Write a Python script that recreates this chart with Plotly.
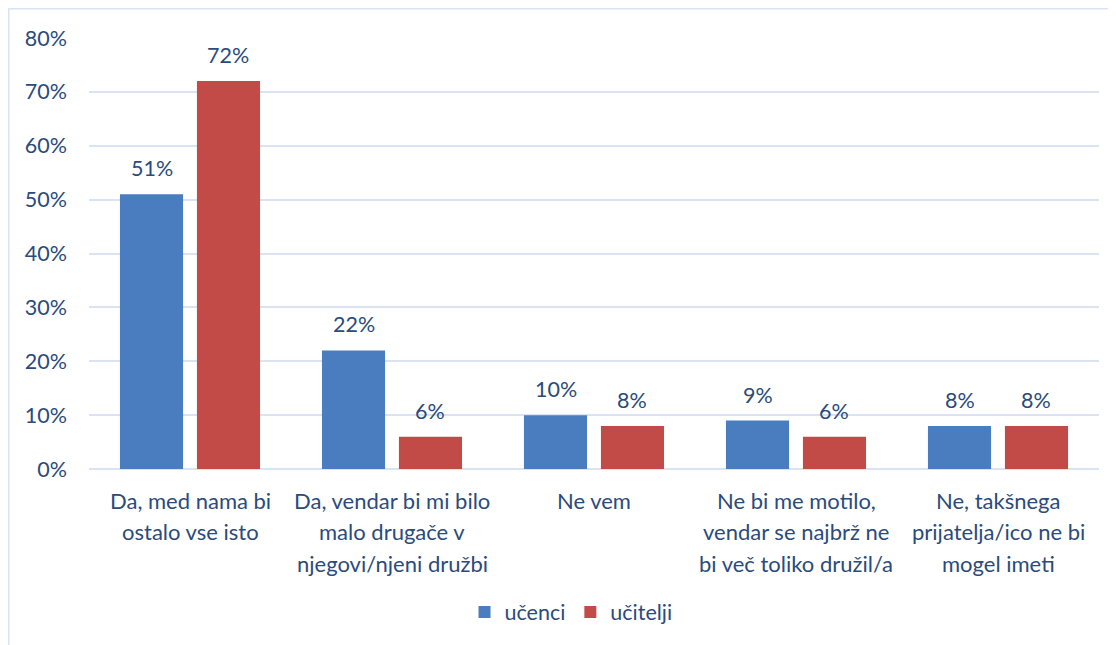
import plotly.graph_objects as go

categories = [
    "Da, med nama bi<br>ostalo vse isto",
    "Da, vendar bi mi bilo<br>malo drugače v<br>njegovi/njeni družbi",
    "Ne vem",
    "Ne bi me motilo,<br>vendar se najbrž ne<br>bi več toliko družil/a",
    "Ne, takšnega<br>prijatelja/ico ne bi<br>mogel imeti",
]
ucenci = [0.51, 0.22, 0.10, 0.09, 0.08]
ucitelji = [0.72, 0.06, 0.08, 0.06, 0.08]
y_ticks = [0, 0.1, 0.2, 0.3, 0.4, 0.5, 0.6, 0.7, 0.8]

FONT = "Lato"
TXT = "#2a4b7c"
GRID = "#d9e3f1"
W, H = 1116, 645
OFF = 8  # page offset of the figure in the screenshot
ML, PW = 89 - OFF, 1010
MT, PH = 38 - OFF, 431
MR = W - ML - PW
MB = H - MT - PH

def px_x(p):  # screenshot px -> paper
    return (p - OFF - ML) / PW

def px_y(p):
    return (MT + PH - (p - OFF)) / PH

fig = go.Figure()
fig.add_trace(go.Bar(name="učenci", x=list(range(5)), y=ucenci,
                     marker=dict(color="#4a7cc0", line=dict(width=0))))
fig.add_trace(go.Bar(name="učitelji", x=list(range(5)), y=ucitelji,
                     marker=dict(color="#c24b48", line=dict(width=0))))

annotations = []
for i, (a, b) in enumerate(zip(ucenci, ucitelji)):
    for off, v in ((-0.19, a), (0.19, b)):
        annotations.append(dict(x=i + off, y=v, xref="x", yref="y",
                                text=f"{round(v*100)}%", showarrow=False,
                                yanchor="bottom", yshift=11,
                                font=dict(family=FONT, size=21.5, color=TXT)))
for i, cat in enumerate(categories):
    for j, line in enumerate(cat.split("<br>")):
        annotations.append(dict(x=i, y=px_y(500 + j * 31.5), xref="x", yref="paper",
                                text=line, showarrow=False, yanchor="middle",
                                font=dict(family=FONT, size=22, color=TXT)))

fig.update_layout(
    width=W, height=H,
    margin=dict(l=ML, r=MR, t=MT, b=MB),
    paper_bgcolor="white", plot_bgcolor="white",
    barmode="group", bargap=0.238, bargroupgap=0.18,
    font=dict(family=FONT, size=21.5, color=TXT),
    xaxis=dict(range=[-0.5, 4.5], showticklabels=False, showgrid=False,
               zeroline=False, showline=False, ticks=""),
    yaxis=dict(range=[0, 0.8], tickvals=y_ticks, tickformat=".0%",
               showgrid=True, gridcolor=GRID, gridwidth=2,
               zeroline=True, zerolinecolor=GRID, zerolinewidth=2,
               showline=False, ticks="", ticklabelstandoff=21,
               tickfont=dict(family=FONT, size=21.5, color=TXT)),
    legend=dict(orientation="h", x=px_x(571), xanchor="center", y=px_y(612), yanchor="middle",
                font=dict(family=FONT, size=21.5, color=TXT), itemwidth=30,
                traceorder="normal"),
    annotations=annotations,
    shapes=[dict(type="rect", xref="paper", yref="paper",
                 x0=px_x(8.5), x1=px_x(1140), y0=px_y(660), y1=px_y(8.5),
                 line=dict(color=GRID, width=2), fillcolor="rgba(0,0,0,0)", layer="below")],
)

fig.write_html("out.html")
